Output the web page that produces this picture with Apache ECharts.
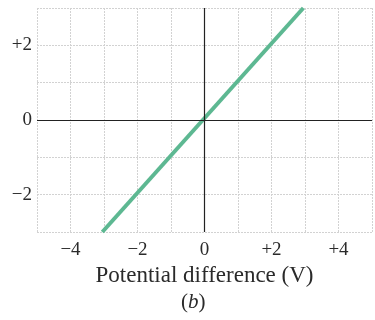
<!DOCTYPE html>
<html>
<head>
<meta charset="utf-8">
<title>iv</title>
<script src="https://cdn.jsdelivr.net/npm/echarts@6/dist/echarts.min.js"></script>
<style>
  html, body { margin: 0; padding: 0; background: #fff; }
  #main { width: 375px; height: 320px; }
</style>
</head>
<body>
<div id="main"></div>
<script>
// line endpoints (potential difference V, current)
var lineX = [-3.05, 2.95];
var lineY = [-3, 3];
var xLabels = {'-4': '\u22124', '-2': '\u22122', '0': '0', '2': '+2', '4': '+4'};
var yLabels = {'-2': '\u22122', '0': '0', '2': '+2'};

var serif = '"Liberation Serif", "DejaVu Serif", serif';
var gridLine = { show: true, lineStyle: { color: '#d2d2d2', width: 1, type: [2, 1] } };

var chart = echarts.init(document.getElementById('main'));
chart.setOption({
  animation: false,
  backgroundColor: '#fff',
  title: {
    text: '({i|b})',
    left: 176, top: 287,
    textStyle: {
      fontFamily: serif, fontSize: 21, fontWeight: 'normal', color: '#2a2a2a',
      rich: { i: { fontFamily: serif, fontSize: 21, fontStyle: 'italic', color: '#2a2a2a' } }
    }
  },
  grid: { left: 37, right: 0, top: 8, bottom: 88 },
  xAxis: {
    type: 'value', min: -5, max: 5, interval: 1,
    axisLine: { show: false },
    axisTick: { show: false },
    splitLine: gridLine,
    axisLabel: {
      margin: 9, fontFamily: serif, fontSize: 19, color: '#2a2a2a',
      formatter: function (v) { return xLabels[v] || ''; }
    },
    name: 'Potential difference (V)',
    nameLocation: 'middle', nameGap: 26,
    nameTextStyle: { fontFamily: serif, fontSize: 23, color: '#2a2a2a' }
  },
  yAxis: {
    type: 'value', min: -3, max: 3, interval: 1,
    axisLine: { show: false },
    axisTick: { show: false },
    splitLine: gridLine,
    axisLabel: {
      margin: 5, fontFamily: serif, fontSize: 19, color: '#2a2a2a',
      formatter: function (v) { return yLabels[v] || ''; }
    }
  },
  series: [{
    type: 'line',
    data: lineX.map(function (x, i) { return [x, lineY[i]]; }),
    showSymbol: false,
    lineStyle: { color: '#5db892', width: 4 },
    markLine: {
      silent: true, symbol: 'none', label: { show: false },
      lineStyle: { color: '#222', width: 1.2, type: 'solid' },
      data: [{ xAxis: 0 }, { yAxis: 0 }]
    }
  }]
});
</script>
</body>
</html>
